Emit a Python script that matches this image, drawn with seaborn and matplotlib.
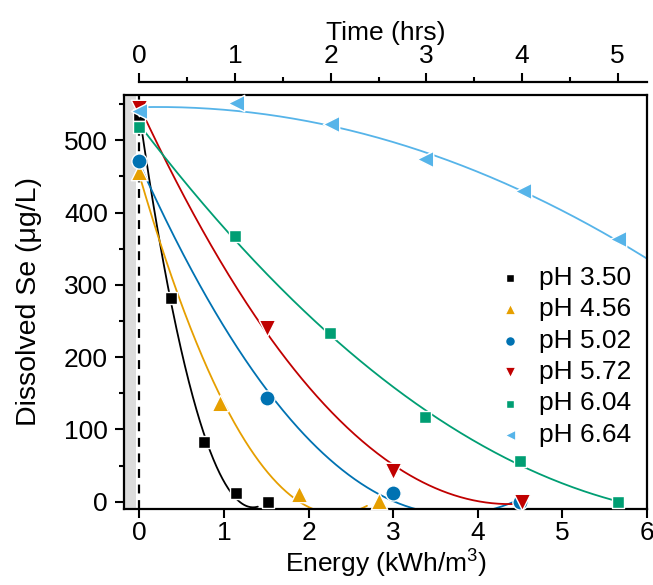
import numpy as np
import pandas as pd
import matplotlib
matplotlib.use("Agg")
import matplotlib.pyplot as plt
from matplotlib.ticker import MultipleLocator
import seaborn as sns

# ---------------- data ----------------
labels = ["pH 3.50", "pH 4.56", "pH 5.02", "pH 5.72", "pH 6.04", "pH 6.64"]
colors = ["#000000", "#E69F00", "#0072B2", "#C00000", "#009E73", "#56B4E9"]
markers = ["s", "^", "o", "v", "s", "<"]

energy_350 = [0.0, 0.38, 0.76, 1.14, 1.52]
se_350 = [535, 282, 83, 12, 0]
energy_456 = [0.0, 0.95, 1.89, 2.83]
se_456 = [456, 137, 11, 1]
energy_502 = [0.0, 1.51, 3.00, 4.50]
se_502 = [472, 143, 12, 0]
energy_572 = [0.0, 1.51, 3.00, 4.52]
se_572 = [545, 241, 43, 0]
energy_604 = [0.0, 1.13, 2.25, 3.38, 4.50, 5.65]
se_604 = [519, 367, 234, 117, 56, 0]
energy_664 = [0.0, 1.14, 2.26, 3.38, 4.53, 5.65]
se_664 = [540, 551, 522, 474, 430, 363]

energies = [energy_350, energy_456, energy_502, energy_572, energy_604, energy_664]
values = [se_350, se_456, se_502, se_572, se_604, se_664]
fit_degree = [2, 2, 2, 2, 2, 2]
fit_end = [1.40, 2.69, 4.45, 4.45, 5.65, 6.2]

x_ticks = [0, 1, 2, 3, 4, 5, 6]
y_ticks = [0, 100, 200, 300, 400, 500]
time_ticks = [0, 1, 2, 3, 4, 5]

# ---------------- style ----------------
sns.set_theme(style="ticks")
plt.rcParams["font.family"] = ["Liberation Sans", "DejaVu Sans"]
plt.rcParams["mathtext.fontset"] = "custom"
plt.rcParams["mathtext.rm"] = "Liberation Sans"
plt.rcParams["mathtext.it"] = "Liberation Sans:italic"
for key in ("text.color", "axes.labelcolor", "xtick.color", "ytick.color",
            "xtick.labelcolor", "ytick.labelcolor", "axes.edgecolor"):
    plt.rcParams[key] = "black"
FS = 19

fig = plt.figure(figsize=(6.53, 5.85), dpi=100)
ax = fig.add_axes([0.190, 0.130, 0.801, 0.708])

XMIN, XMAX = -0.18, 6.0
YMIN, YMAX = -10, 563

# gray band and dashed zero line
ax.axvspan(XMIN, -0.04, color="#dcdcdc", lw=0, zorder=0)
ax.axvline(0, color="black", ls=(0, (4, 3)), lw=1.6, zorder=1)

for lab, c, e, v, deg, xe in zip(labels, colors, energies, values, fit_degree, fit_end):
    p = np.polyfit(e, v, deg)
    xs = np.linspace(0, xe, 300)
    ys = np.polyval(p, xs)
    sns.lineplot(x=xs, y=ys, ax=ax, color=c, lw=1.3, sort=False,
                 estimator=None, legend=False, zorder=2)

for lab, c, m, e, v in zip(labels, colors, markers, energies, values):
    sz = 85 if m == "s" else (120 if m == "o" else 140)
    sns.scatterplot(x=e, y=v, ax=ax, color=c, marker=m, s=sz,
                    edgecolor="white", linewidth=1.0, label=lab, zorder=3,
                    clip_on=False)

ax.set_xlim(XMIN, XMAX)
ax.set_ylim(YMIN, YMAX)
ax.set_xticks(x_ticks)
ax.set_yticks(y_ticks)
ax.yaxis.set_minor_locator(MultipleLocator(50))
ax.tick_params(axis="both", which="major", direction="out", length=6.5,
               width=1.5, labelsize=FS, color="black")
ax.tick_params(axis="x", which="major", pad=2)
ax.tick_params(axis="y", which="major", pad=5)
ax.tick_params(axis="y", which="minor", direction="out", length=3.5, width=1.5)
ax.tick_params(top=False, right=False)
for s in ax.spines.values():
    s.set_linewidth(1.6)
    s.set_color("black")
    s.set_visible(True)

ax.set_xlabel("Energy (kWh/m$^3$)", fontsize=FS, labelpad=2)
ax.set_ylabel("Dissolved Se (\u03bcg/L)", fontsize=20.5, labelpad=16)

leg = ax.legend(loc="upper right", bbox_to_anchor=(1.0, 0.625), frameon=False,
                fontsize=FS, markerscale=0.65, handletextpad=0.5,
                labelspacing=0.28, borderaxespad=0.2, handlelength=1.2)

# top time axis
hrs_per_energy = 84.3 / 95.3
top = ax.twiny()
top.set_xlim(XMIN * hrs_per_energy, XMAX * hrs_per_energy)
top.set_xticks(time_ticks)
top.xaxis.set_minor_locator(MultipleLocator(0.5))
for name in ("left", "right", "bottom"):
    top.spines[name].set_visible(False)
top.spines["top"].set_position(("outward", 9))
top.spines["top"].set_bounds(0, XMAX * hrs_per_energy)
top.spines["top"].set_linewidth(1.6)
top.spines["top"].set_color("black")
top.tick_params(axis="x", which="major", direction="out", length=6.5,
                width=1.5, labelsize=FS, pad=4, color="black")
top.tick_params(axis="x", which="minor", direction="out", length=3.5, width=1.5)
top.set_xlabel("Time (hrs)", fontsize=FS, labelpad=3)

fig.savefig("out.png", dpi=100)
